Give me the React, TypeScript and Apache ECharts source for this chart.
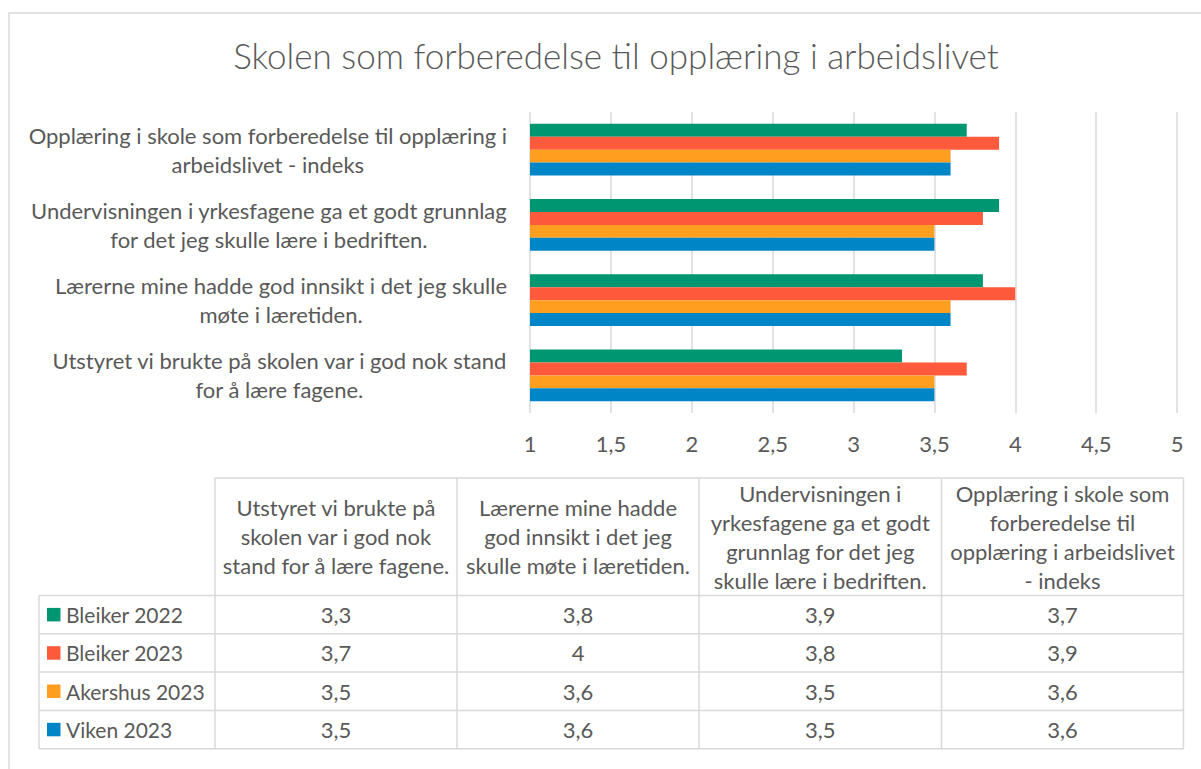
import React, { useEffect, useRef } from "react";
import * as echarts from "echarts";

const TITLE = "Skolen som forberedelse til opplæring i arbeidslivet";

// Categories (bottom to top on the axis, same order as the table columns)
const categories = [
  "Utstyret vi brukte på skolen var i god nok stand for å lære fagene.",
  "Lærerne mine hadde god innsikt i det jeg skulle møte i læretiden.",
  "Undervisningen i yrkesfagene ga et godt grunnlag for det jeg skulle lære i bedriften.",
  "Opplæring i skole som forberedelse til opplæring i arbeidslivet - indeks",
];

// Wrapped axis labels
const axisLabelLines = [
  "Utstyret vi brukte på skolen var i god nok stand\nfor å lære fagene.",
  "Lærerne mine hadde god innsikt i det jeg skulle\nmøte i læretiden.",
  "Undervisningen i yrkesfagene ga et godt grunnlag\nfor det jeg skulle lære i bedriften.",
  "Opplæring i skole som forberedelse til opplæring i\narbeidslivet - indeks",
];

// Wrapped table header labels
const tableHeaders = [
  "Utstyret vi brukte på\nskolen var i god nok\nstand for å lære fagene.",
  "Lærerne mine hadde\ngod innsikt i det jeg\nskulle møte i læretiden.",
  "Undervisningen i\nyrkesfagene ga et godt\ngrunnlag for det jeg\nskulle lære i bedriften.",
  "Opplæring i skole som\nforberedelse til\nopplæring i arbeidslivet\n- indeks",
];

const seriesNames = ["Bleiker 2022", "Bleiker 2023", "Akershus 2023", "Viken 2023"];
const bleiker2022 = [3.3, 3.8, 3.9, 3.7];
const bleiker2023 = [3.7, 4, 3.8, 3.9];
const akershus2023 = [3.5, 3.6, 3.5, 3.6];
const viken2023 = [3.5, 3.6, 3.5, 3.6];
const seriesValues = [bleiker2022, bleiker2023, akershus2023, viken2023];
const seriesColors = ["#009672", "#FF5A3C", "#FF9E1F", "#0085C7"];

const xMin = 1;
const xMax = 5;
const xInterval = 0.5;

const FONT = "Lato";
const TEXT_COLOR = "#595959";
const BORDER = "#D9D9D9";
const LABEL_SIZE = 22;

const fmt = (v: number) => String(v).replace(".", ",");

export default function App() {
  const ref = useRef<HTMLDivElement>(null);

  useEffect(() => {
    if (!ref.current) return;
    const chart = echarts.init(ref.current, null, { renderer: "svg" });

    // Table geometry
    const colX = [215, 457, 699, 941.5, 1183.5];
    const rowHeadLeft = 39;
    const headTop = 478;
    const rowY = [595.5, 633.8, 672.1, 710.4, 748.7];

    const graphics: any[] = [];
    // outer frame
    graphics.push({
      type: "rect",
      shape: { x: 9, y: 13, width: 1400, height: 1000 },
      style: { fill: "none", stroke: BORDER, lineWidth: 1.5 },
      silent: true,
    });
    const line = (x1: number, y1: number, x2: number, y2: number) => ({
      type: "line",
      shape: { x1, y1, x2, y2 },
      style: { stroke: BORDER, lineWidth: 1.5 },
      silent: true,
    });
    // header row borders
    graphics.push(line(colX[0], headTop, colX[4], headTop));
    colX.forEach((x) => graphics.push(line(x, headTop, x, rowY[4])));
    graphics.push(line(rowHeadLeft, rowY[0], rowHeadLeft, rowY[4]));
    rowY.forEach((y) => graphics.push(line(rowHeadLeft, y, colX[4], y)));

    // header texts
    tableHeaders.forEach((t, i) => {
      graphics.push({
        type: "text",
        x: (colX[i] + colX[i + 1]) / 2,
        y: (headTop + rowY[0]) / 2,
        silent: true,
        style: {
          text: t,
          fill: TEXT_COLOR,
          fontFamily: FONT,
          fontSize: LABEL_SIZE,
          lineHeight: 29,
          align: "center",
          verticalAlign: "middle",
        },
      });
    });

    // rows
    seriesNames.forEach((name, r) => {
      const cy = (rowY[r] + rowY[r + 1]) / 2;
      graphics.push({
        type: "rect",
        shape: { x: 47, y: cy - 6.75, width: 13.5, height: 13.5 },
        style: { fill: seriesColors[r] },
        silent: true,
      });
      graphics.push({
        type: "text",
        x: 66,
        y: cy,
        silent: true,
        style: {
          text: name,
          fill: TEXT_COLOR,
          fontFamily: FONT,
          fontSize: 21,
          align: "left",
          verticalAlign: "middle",
        },
      });
      seriesValues[r].forEach((v, c) => {
        graphics.push({
          type: "text",
          x: (colX[c] + colX[c + 1]) / 2,
          y: cy,
          silent: true,
          style: {
            text: fmt(v),
            fill: TEXT_COLOR,
            fontFamily: FONT,
            fontSize: LABEL_SIZE,
            align: "center",
            verticalAlign: "middle",
          },
        });
      });
    });

    const series = seriesNames.map((name, i) => ({
      name,
      type: "bar",
      data: seriesValues[i],
      itemStyle: { color: seriesColors[i] },
      barGap: "0%",
      barCategoryGap: "31%",
      silent: true,
    }));

    chart.setOption({
      animation: false,
      backgroundColor: "#ffffff",
      title: {
        text: TITLE,
        left: 611,
        top: 32,
        textAlign: "center",
        textStyle: {
          fontFamily: FONT,
          fontWeight: 300,
          fontSize: 35,
          color: TEXT_COLOR,
        },
      },
      grid: { left: 530, right: 24, top: 112, bottom: 356 },
      xAxis: {
        type: "value",
        min: xMin,
        max: xMax,
        interval: xInterval,
        axisLine: { show: false },
        axisTick: { show: false },
        splitLine: { show: true, lineStyle: { color: BORDER, width: 1.5 } },
        axisLabel: {
          formatter: (v: number) => fmt(v),
          color: TEXT_COLOR,
          fontFamily: FONT,
          fontSize: LABEL_SIZE,
          margin: 19,
        },
      },
      yAxis: {
        type: "category",
        data: categories,
        axisLine: { show: false },
        axisTick: { show: false },
        axisLabel: {
          align: "right",
          margin: 23,
          formatter: (_v: string, idx: number) =>
            axisLabelLines[idx]
              .split("\n")
              .map((l) => `{c|${l}}`)
              .join("\n"),
          rich: {
            c: {
              align: "center",
              color: TEXT_COLOR,
              fontFamily: FONT,
              fontSize: LABEL_SIZE,
              lineHeight: 29,
            },
          },
        },
      },
      series,
      graphic: graphics,
    });

    return () => chart.dispose();
  }, []);

  return (
    <div
      ref={ref}
      style={{ position: "fixed", left: 0, top: 0, width: 1201, height: 769, background: "#fff" }}
    />
  );
}
